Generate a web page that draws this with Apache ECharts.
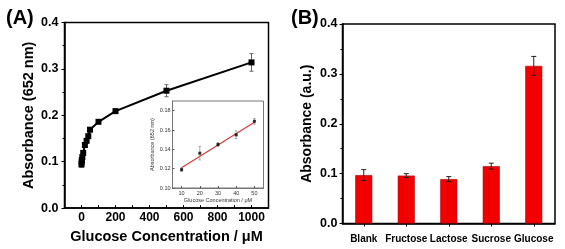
<!DOCTYPE html>
<html lang="en">
<head>
<meta charset="UTF-8">
<title>Glucose detection</title>
<style>
  html, body { margin: 0; padding: 0; background: #fff; }
  #chart { width: 565px; height: 249px; }
</style>
</head>
<body>
<script src="https://cdn.jsdelivr.net/npm/echarts@6/dist/echarts.min.js"></script>
<div id="chart"></div>
<script type="text/javascript">
// panel A: calibration curve
var concA = [0, 1, 2, 5, 10, 20, 30, 40, 50, 100, 200, 500, 1000];
var absA = [0.094, 0.099, 0.104, 0.110, 0.119, 0.136, 0.145, 0.155, 0.169, 0.186, 0.209, 0.253, 0.314];
var errA = [0.006, 0.004, 0.003, 0.003, 0.002, 0.005, 0.003, 0.004, 0.003, 0.003, 0.003, 0.013, 0.019];
var ticksA = [0, 200, 400, 600, 800, 1000];
var minorTicksA = [0, 100, 200, 300, 400, 500, 600, 700, 800, 900, 1000];

// inset: linear range
var concInset = [10, 20, 30, 40, 50];
var absInset = [0.119, 0.136, 0.145, 0.155, 0.169];
var errInset = [0.002, 0.007, 0.002, 0.004, 0.003];
var fitInsetX = [10, 50];
var fitInsetY = [0.121, 0.168];
var ticksInsetX = [10, 20, 30, 40, 50];
var ticksInsetY = [0.10, 0.12, 0.14, 0.16, 0.18];

// panel B: selectivity
var sugars = ['Blank', 'Fructose', 'Lactose', 'Sucrose', 'Glucose'];
var absB = [0.097, 0.096, 0.089, 0.115, 0.316];
var errB = [0.011, 0.004, 0.005, 0.006, 0.019];

var FONT = "'Liberation Sans', Arial, sans-serif";

function zip3(a, b, c) {
    var out = [];
    for (var i = 0; i < a.length; i++) out.push([a[i], b[i], c[i]]);
    return out;
}
function zip2(a, b) {
    var out = [];
    for (var i = 0; i < a.length; i++) out.push([a[i], b[i]]);
    return out;
}

// error bars drawn through the axis scales
function errorBars(cap, color, width) {
    return function (params, api) {
        var x = api.value(0), y = api.value(1), e = api.value(2);
        var hi = api.coord([x, y + e]);
        var lo = api.coord([x, y - e]);
        var st = { stroke: color, lineWidth: width };
        return {
            type: 'group',
            children: [
                { type: 'line', shape: { x1: hi[0], y1: hi[1], x2: lo[0], y2: lo[1] }, style: st },
                { type: 'line', shape: { x1: hi[0] - cap, y1: hi[1], x2: hi[0] + cap, y2: hi[1] }, style: st },
                { type: 'line', shape: { x1: lo[0] - cap, y1: lo[1], x2: lo[0] + cap, y2: lo[1] }, style: st }
            ]
        };
    };
}

var myChart = echarts.init(document.getElementById('chart'));

var bold = { fontFamily: FONT, fontWeight: 'bold', color: '#000' };
var axisBlack = { show: true, onZero: false, lineStyle: { color: '#000', width: 1.5 } };

myChart.setOption({
    animation: false,
    backgroundColor: '#fff',
    title: [
        { text: '(A)', left: 1, top: 3, textStyle: { fontFamily: FONT, fontWeight: 'bold', fontSize: 20, color: '#000' } },
        { text: '(B)', left: 286, top: 3, textStyle: { fontFamily: FONT, fontWeight: 'bold', fontSize: 20, color: '#000' } }
    ],
    grid: [
        { left: 64.5, top: 22.5, width: 204, height: 190, show: true, borderColor: '#000', borderWidth: 1.5, backgroundColor: 'transparent', containLabel: false },
        { left: 172.5, top: 101, width: 91, height: 87, show: true, borderColor: '#777', borderWidth: 1, backgroundColor: 'transparent', containLabel: false },
        { left: 342.5, top: 24, width: 212.5, height: 199.5, show: true, borderColor: '#000', borderWidth: 1.5, backgroundColor: 'transparent', containLabel: false }
    ],
    xAxis: [
        {
            gridIndex: 0, type: 'value', min: -100, max: 1100,
            name: 'Glucose Concentration / μM', nameLocation: 'middle', nameGap: 18,
            nameTextStyle: Object.assign({ fontSize: 14.5 }, bold),
            axisLine: axisBlack,
            axisTick: { show: true, inside: true, length: 3, customValues: minorTicksA, lineStyle: { color: '#000' } },
            axisLabel: Object.assign({ fontSize: 12, margin: 4, customValues: ticksA,
                formatter: function (v) { return String(v); } }, bold),
            splitLine: { show: false }
        },
        {
            gridIndex: 1, type: 'value', min: 5, max: 55,
            name: 'Glucose Concentration / μM', nameLocation: 'middle', nameGap: 9,
            nameTextStyle: { fontFamily: FONT, fontSize: 5.5, color: '#333' },
            axisLine: { show: true, onZero: false, lineStyle: { color: '#777', width: 1 } },
            axisTick: { show: true, inside: true, length: 2, customValues: ticksInsetX, lineStyle: { color: '#555' } },
            axisLabel: { fontFamily: FONT, fontSize: 5.5, color: '#333', margin: 2, customValues: ticksInsetX },
            splitLine: { show: false }
        },
        {
            gridIndex: 2, type: 'category', data: sugars, boundaryGap: true,
            axisLine: axisBlack,
            axisTick: { show: true, alignWithLabel: true, length: 3, lineStyle: { color: '#000' } },
            axisLabel: Object.assign({ fontSize: 10, margin: 11, interval: 0 }, bold),
            splitLine: { show: false }
        }
    ],
    yAxis: [
        {
            gridIndex: 0, type: 'value', min: 0, max: 0.4, interval: 0.1,
            name: 'Absorbance (652 nm)', nameLocation: 'middle', nameGap: 28,
            nameTextStyle: Object.assign({ fontSize: 14.5 }, bold),
            axisLine: axisBlack,
            axisTick: { show: true, length: 3, lineStyle: { color: '#000' } },
            minorTick: { show: true, splitNumber: 2, length: 2, lineStyle: { color: '#000' } },
            axisLabel: Object.assign({ fontSize: 12.5, margin: 6, formatter: function (v) { return v.toFixed(1); } }, bold),
            splitLine: { show: false }
        },
        {
            gridIndex: 1, type: 'value', min: 0.10, max: 0.19,
            name: 'Absorbance (652 nm)', nameLocation: 'middle', nameGap: 13,
            nameTextStyle: { fontFamily: FONT, fontSize: 5.5, color: '#333' },
            axisLine: { show: true, onZero: false, lineStyle: { color: '#777', width: 1 } },
            axisTick: { show: true, inside: true, length: 2, customValues: ticksInsetY, lineStyle: { color: '#555' } },
            axisLabel: { fontFamily: FONT, fontSize: 5.5, color: '#333', margin: 2, customValues: ticksInsetY,
                formatter: function (v) { return v.toFixed(2); } },
            splitLine: { show: false }
        },
        {
            gridIndex: 2, type: 'value', min: 0, max: 0.4, interval: 0.1,
            name: 'Absorbance (a.u.)', nameLocation: 'middle', nameGap: 28,
            nameTextStyle: Object.assign({ fontSize: 14 }, bold),
            axisLine: axisBlack,
            axisTick: { show: true, length: 3, lineStyle: { color: '#000' } },
            minorTick: { show: true, splitNumber: 2, length: 2, lineStyle: { color: '#000' } },
            axisLabel: Object.assign({ fontSize: 12.5, margin: 5, formatter: function (v) { return v.toFixed(1); } }, bold),
            splitLine: { show: false }
        }
    ],
    series: [
        {
            type: 'custom', xAxisIndex: 0, yAxisIndex: 0, z: 3,
            renderItem: errorBars(2, '#666', 1),
            data: zip3(concA, absA, errA)
        },
        {
            type: 'line', xAxisIndex: 0, yAxisIndex: 0, z: 4,
            data: zip2(concA, absA),
            symbol: 'rect', symbolSize: 6,
            itemStyle: { color: '#000' },
            lineStyle: { color: '#000', width: 2 }
        },
        {
            type: 'line', xAxisIndex: 1, yAxisIndex: 1, z: 3,
            data: zip2(fitInsetX, fitInsetY),
            symbol: 'none',
            lineStyle: { color: '#d83a3a', width: 1.2 }
        },
        {
            type: 'custom', xAxisIndex: 1, yAxisIndex: 1, z: 4,
            renderItem: errorBars(1.2, '#888', 0.7),
            data: zip3(concInset, absInset, errInset)
        },
        {
            type: 'scatter', xAxisIndex: 1, yAxisIndex: 1, z: 5,
            data: zip2(concInset, absInset),
            symbol: 'rect', symbolSize: 3,
            itemStyle: { color: '#000' }
        },
        {
            type: 'bar', xAxisIndex: 2, yAxisIndex: 2, z: 3,
            data: absB, barWidth: 17,
            itemStyle: { color: '#f20000', borderColor: '#b00000', borderWidth: 0.6 }
        },
        {
            type: 'custom', xAxisIndex: 2, yAxisIndex: 2, z: 4,
            renderItem: errorBars(2.5, '#222', 1),
            data: zip3([0, 1, 2, 3, 4], absB, errB)
        }
    ]
});
</script>
</body>
</html>
